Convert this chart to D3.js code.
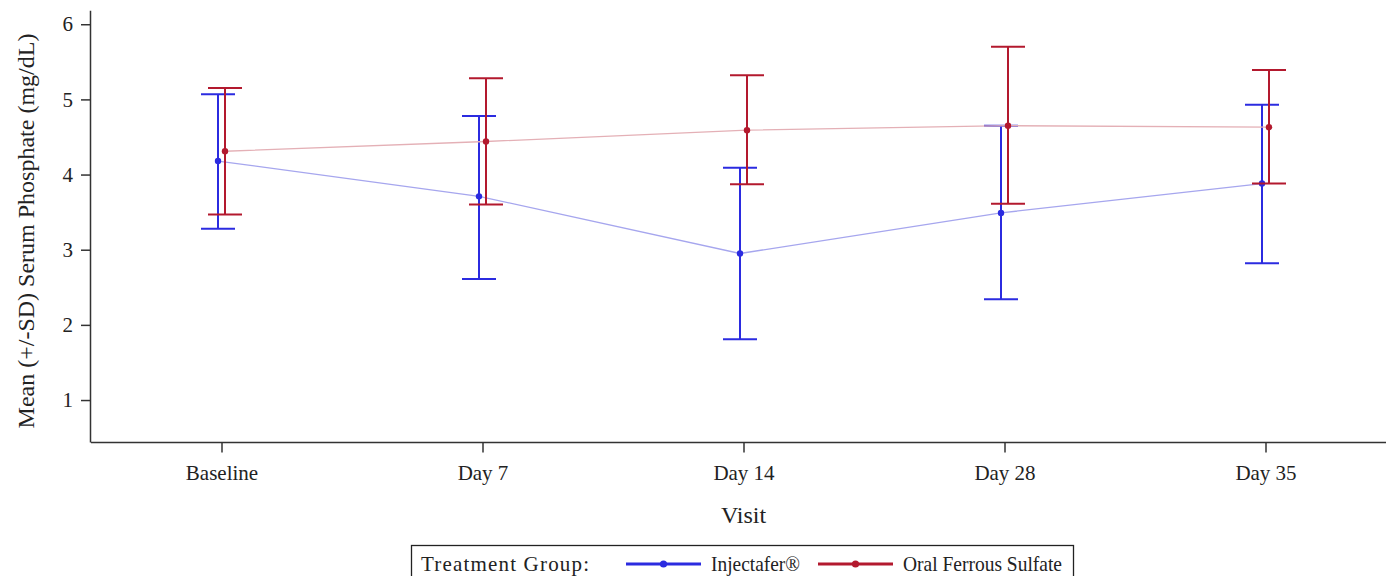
<!DOCTYPE html>
<html>
<head>
<meta charset="utf-8">
<script src="https://cdn.jsdelivr.net/npm/d3@7"></script>
<style>
  body { margin: 0; background: #fff; }
  svg { display: block; font-family: "Liberation Serif", "Times New Roman", serif; }
</style>
</head>
<body>
<script>
// visits on the x axis
var visits = ["Baseline", "Day 7", "Day 14", "Day 28", "Day 35"];

// Injectafer mean and +/- SD ends
var injMean = [4.18, 3.71, 2.95, 3.49, 3.88];
var injLow  = [3.28, 2.61, 1.81, 2.34, 2.82];
var injHigh = [5.07, 4.78, 4.09, 4.65, 4.93];

// Oral ferrous sulfate mean and +/- SD ends
var oralMean = [4.31, 4.44, 4.59, 4.65, 4.63];
var oralLow  = [3.47, 3.60, 3.87, 3.61, 3.88];
var oralHigh = [5.15, 5.28, 5.32, 5.70, 5.39];

var yTicks = [1, 2, 3, 4, 5, 6];

var svgWidth = 1386;
var svgHeight = 576;

var plotLeft = 91, plotTop = 10.7, plotBottom = 442.5;

var svg = d3.select("body")
  .append("svg")
  .attr("width", svgWidth)
  .attr("height", svgHeight);

var xScale = d3.scalePoint()
  .domain(visits)
  .range([plotLeft, plotLeft + 261 * 5])
  .padding(0.5);

var yScale = d3.scaleLinear()
  .domain([0.435, 6.18])
  .range([plotBottom, plotTop]);

// axes
var leftAxis = d3.axisLeft(yScale).tickValues(yTicks).tickSize(10).tickPadding(8).tickFormat(d3.format("d"));
var bottomAxis = d3.axisBottom(xScale).tickSize(10).tickPadding(13);

var yAxisG = svg.append("g")
  .attr("transform", `translate(${plotLeft}, 0)`)
  .call(leftAxis);
yAxisG.select(".domain").attr("d", `M-0.5,${plotTop}V${plotBottom}`);

var xAxisG = svg.append("g")
  .attr("transform", `translate(0, ${plotBottom})`)
  .call(bottomAxis);
xAxisG.select(".domain").attr("d", `M${plotLeft},0H${svgWidth}`);

[yAxisG, xAxisG].forEach(function(g) {
  g.selectAll(".domain").attr("stroke", "#333").attr("stroke-width", 1.5);
  g.selectAll(".tick line").attr("stroke", "#333").attr("stroke-width", 1.5);
  g.selectAll("text")
    .attr("fill", "#222")
    .style("font-family", "Liberation Serif, serif")
    .style("font-size", "21px");
});

// series
var series = [
  { name: "Injectafer\u00ae", mean: injMean, low: injLow, high: injHigh,
    color: "#2b2be0", lineColor: "#a6a6ee", offset: -3.5 },
  { name: "Oral Ferrous Sulfate", mean: oralMean, low: oralLow, high: oralHigh,
    color: "#b3192e", lineColor: "#e4b0b6", offset: 3.5 }
];

var capHalf = 17;

series.forEach(function(s) {
  var pts = visits.map(function(v, i) {
    return { x: xScale(v) + s.offset, mean: s.mean[i], low: s.low[i], high: s.high[i] };
  });

  var line = d3.line()
    .x(d => d.x)
    .y(d => yScale(d.mean));

  svg.append("path")
    .datum(pts)
    .attr("fill", "none")
    .attr("stroke", s.lineColor)
    .attr("stroke-width", 1.3)
    .attr("d", line);

  var g = svg.append("g");

  g.selectAll(".stem")
    .data(pts)
    .enter()
    .append("line")
    .attr("x1", d => d.x)
    .attr("x2", d => d.x)
    .attr("y1", d => yScale(d.low))
    .attr("y2", d => yScale(d.high))
    .attr("stroke", s.color)
    .attr("stroke-width", 2);

  g.selectAll(".capHi")
    .data(pts)
    .enter()
    .append("line")
    .attr("x1", d => d.x - capHalf)
    .attr("x2", d => d.x + capHalf)
    .attr("y1", d => yScale(d.high))
    .attr("y2", d => yScale(d.high))
    .attr("stroke", s.color)
    .attr("stroke-width", 2);

  g.selectAll(".capLo")
    .data(pts)
    .enter()
    .append("line")
    .attr("x1", d => d.x - capHalf)
    .attr("x2", d => d.x + capHalf)
    .attr("y1", d => yScale(d.low))
    .attr("y2", d => yScale(d.low))
    .attr("stroke", s.color)
    .attr("stroke-width", 2);

  g.selectAll("circle")
    .data(pts)
    .enter()
    .append("circle")
    .attr("cx", d => d.x)
    .attr("cy", d => yScale(d.mean))
    .attr("r", 3.2)
    .attr("fill", s.color);
});

// axis labels
svg.append("text")
  .attr("transform", "translate(34, 231) rotate(-90)")
  .attr("text-anchor", "middle")
  .style("font-size", "24px")
  .attr("fill", "#222")
  .text("Mean (+/-SD) Serum Phosphate (mg/dL)");

svg.append("text")
  .attr("x", xScale("Day 14"))
  .attr("y", 523)
  .attr("text-anchor", "middle")
  .style("font-size", "24px")
  .attr("fill", "#222")
  .text("Visit");

// legend
var legend = svg.append("g");
legend.append("rect")
  .attr("x", 411.5)
  .attr("y", 545.5)
  .attr("width", 662)
  .attr("height", 34)
  .attr("fill", "none")
  .attr("stroke", "#222")
  .attr("stroke-width", 1.3);

legend.append("text")
  .attr("x", 421)
  .attr("y", 571)
  .attr("textLength", 168)
  .attr("lengthAdjust", "spacing")
  .style("font-size", "21px")
  .attr("fill", "#222")
  .text("Treatment Group:");

var legendItems = [
  { x0: 626, x1: 701, tx: 711, tw: 89, s: series[0] },
  { x0: 818, x1: 893, tx: 903, tw: 159, s: series[1] }
];

legendItems.forEach(function(it) {
  legend.append("line")
    .attr("x1", it.x0).attr("x2", it.x1)
    .attr("y1", 564).attr("y2", 564)
    .attr("stroke", it.s.color)
    .attr("stroke-width", 3);
  legend.append("circle")
    .attr("cx", (it.x0 + it.x1) / 2)
    .attr("cy", 564)
    .attr("r", 3.6)
    .attr("fill", it.s.color);
  legend.append("text")
    .attr("x", it.tx)
    .attr("y", 571)
    .attr("textLength", it.tw)
    .attr("lengthAdjust", "spacingAndGlyphs")
    .style("font-size", "21px")
    .attr("fill", "#222")
    .text(it.s.name);
});
</script>
</body>
</html>
